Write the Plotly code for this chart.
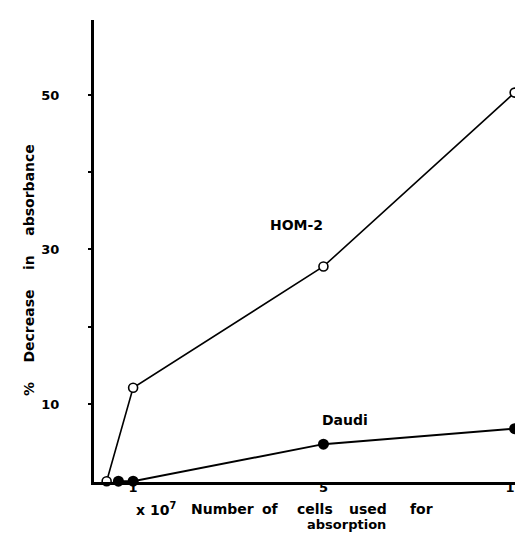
import numpy as np
import plotly.graph_objects as go

# Data (cells x 10^7, % decrease in absorbance)
hom2_cells = [0.1, 1, 5, 10]
hom2_values = [0.0, 12.1, 27.8, 50.3]
daudi_cells = [0.5, 1, 5, 10]
daudi_values = [0.0, 0.0, 4.8, 6.8]

x_tick_values = [1, 5, 10]
x_tick_labels = ["1", "5", "10"]
y_tick_values = [10, 20, 30, 40, 50]
y_tick_labels = ["10", "", "30", "", "50"]

# The original hand-drawn axis is not linear: piecewise scale
SCALE_IN = [0, 1, 5, 10]
SCALE_OUT = [0, 1, 7.47, 13.97]


def xs(v):
    return np.interp(v, SCALE_IN, SCALE_OUT)


font = "DejaVu Sans"
fig = go.Figure()

fig.add_trace(go.Scatter(
    x=xs(hom2_cells), y=hom2_values, mode="lines+markers",
    line=dict(color="black", width=1.6),
    marker=dict(symbol="circle", size=9, color="white",
                line=dict(color="black", width=1.6)),
    cliponaxis=False, showlegend=False))

fig.add_trace(go.Scatter(
    x=xs(daudi_cells), y=daudi_values, mode="lines+markers",
    line=dict(color="black", width=2),
    marker=dict(symbol="circle", size=11, color="black"),
    cliponaxis=False, showlegend=False))

tickfont = dict(family=font, size=13, color="black", weight="bold")
fig.update_layout(
    width=523, height=533,
    margin=dict(l=86, r=7, t=12, b=59),
    paper_bgcolor="white", plot_bgcolor="white",
    font=dict(family=font, color="black", size=13),
    xaxis=dict(range=[-0.33, 14.05], showgrid=False, zeroline=False,
               showline=True, linecolor="black", linewidth=3,
               tickvals=list(xs(x_tick_values)), ticktext=x_tick_labels,
               ticks="", ticklabelstandoff=-9, tickfont=tickfont),
    yaxis=dict(range=[-0.1, 59.7], showgrid=False, zeroline=False,
               showline=True, linecolor="black", linewidth=3,
               tickvals=y_tick_values, ticktext=y_tick_labels,
               ticks="outside", ticklen=3, tickwidth=2, tickcolor="black",
               ticklabelstandoff=26, tickfont=tickfont),
)

bold = dict(family=font, size=14, color="black", weight="bold")


def label(text, px, py, anchor="center", size=14):
    fig.add_annotation(xref="paper", yref="paper",
                       x=(px - 86) / 430, y=(474 - py) / 462,
                       xanchor=anchor, yanchor="middle",
                       text=text, showarrow=False,
                       font=dict(bold, size=size))


fig.add_annotation(xref="paper", yref="paper", x=(20 - 86) / 430,
                   y=(474 - 262) / 462, xanchor="center", yanchor="middle",
                   text="%    Decrease    in    absorbance", textangle=-90,
                   showarrow=False, font=bold)
label("HOM-2", 292, 217)
label("Daudi", 341, 412)

# x-axis title, word by word as in the original typesetting
xtitle_words = ["x 10<sup>7</sup>", "Number", "of", "cells", "used", "for"]
xtitle_left = [127, 183, 255, 290, 343, 405]
for word, left in zip(xtitle_words, xtitle_left):
    label(word, left, 501, anchor="left")
label("absorption", 343, 516, size=13)

fig.write_html("out.html")
